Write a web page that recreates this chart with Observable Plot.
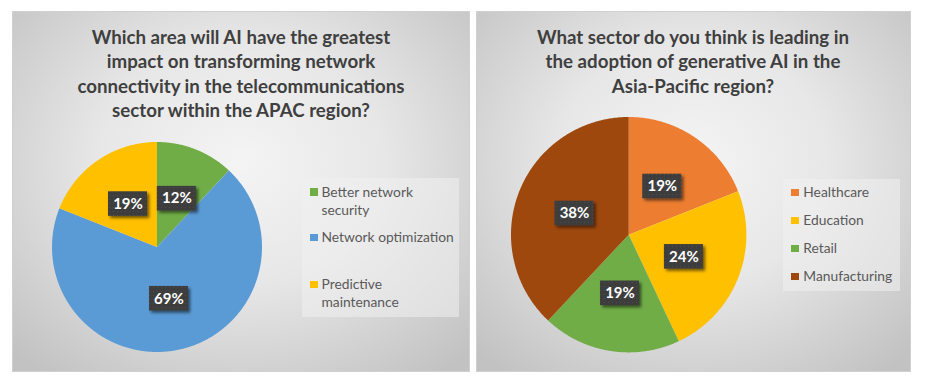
<!DOCTYPE html>
<html>
<head>
<meta charset="utf-8">
<script src="https://cdn.jsdelivr.net/npm/d3@7"></script>
<script src="https://cdn.jsdelivr.net/npm/@observablehq/plot@0.6"></script>
<style>
  html, body { margin: 0; padding: 0; background: #fff; }
  body { width: 926px; height: 385px; position: relative; overflow: hidden; font-family: Lato, "Open Sans", sans-serif; }
  .panel { position: absolute; top: 11px; height: 361px; box-sizing: border-box; border: 1px solid #d0d0d0;
    background: radial-gradient(ellipse 70% 75% at 50% 42%, #f4f4f4 0%, #e7e7e7 45%, #c2c2c2 100%); }
  .title { position: absolute; text-align: center; font-weight: bold; color: #3f3f3f; font-size: 18.7px; line-height: 24.4px; white-space: nowrap; }
  .legend { position: absolute; background: rgba(240,240,240,0.55); }
  .item { position: absolute; font-size: 13.8px; line-height: 18.3px; color: #595959; white-space: nowrap; }
  .sw { position: absolute; width: 7.5px; height: 7.5px; }
  .pie { position: absolute; }
  .pie svg { overflow: visible; }
</style>
</head>
<body>
<script>
// ---- data ----
const leftTitle = ["Which area will AI have the greatest", "impact on transforming network", "connectivity in the telecommunications", "sector within the APAC region?"];
const leftCategories = ["Better network security", "Network optimization", "Predictive maintenance"];
const leftLegendLines = [["Better network", "security"], ["Network optimization"], ["Predictive", "maintenance"]];
const leftValues = [12, 69, 19];

const rightTitle = ["What sector do you think is leading in", "the adoption of generative AI in the", "Asia-Pacific region?"];
const rightCategories = ["Healthcare", "Education", "Retail", "Manufacturing"];
const rightValues = [19, 24, 19, 38];

// ---- styles ----
const leftColors = ["#70AD47", "#5B9BD5", "#FFC000"];
const rightColors = ["#ED7D31", "#FFC000", "#70AD47", "#9E480E"];

function panel(left, width) {
  const p = document.createElement("div");
  p.className = "panel";
  p.style.left = left + "px";
  p.style.width = width + "px";
  document.body.appendChild(p);
}
panel(12, 458);
panel(476, 435);

function title(lines, cx, top) {
  const t = document.createElement("div");
  t.className = "title";
  t.style.left = (cx - 250) + "px";
  t.style.width = "500px";
  t.style.top = top + "px";
  t.innerHTML = lines.join("<br>");
  document.body.appendChild(t);
}
title(leftTitle, 241, 24.8);
title(rightTitle, 693, 24.8);

function pie(categories, values, colors, cx, cy, R, id) {
  const arcs = d3.pie().sort(null).value(d => d)(values);
  const pts = [];
  arcs.forEach((a, i) => {
    const n = Math.max(2, Math.ceil((a.endAngle - a.startAngle) / (Math.PI / 360)));
    for (let k = 0; k <= n; k++) {
      const ang = a.startAngle + (a.endAngle - a.startAngle) * k / n;
      pts.push({cat: categories[i], x1: Math.sin(ang), y1: Math.cos(ang), x2: 0, y2: 0});
    }
  });
  const bw = 19.5 / R, bh = 12.3 / R;
  const labels = arcs.map((a, i) => {
    const m = (a.startAngle + a.endAngle) / 2;
    const x = 0.5 * Math.sin(m), y = 0.5 * Math.cos(m);
    return {cat: categories[i], text: values[i] + "%", x, y, x1: x - bw, x2: x + bw, y1: y - bh, y2: y + bh};
  });
  const svg = Plot.plot({
    width: 2 * R, height: 2 * R,
    margin: 0,
    x: {domain: [-1, 1], axis: null},
    y: {domain: [-1, 1], axis: null},
    color: {domain: categories, range: colors},
    style: {background: "transparent", overflow: "visible"},
    marks: [
      Plot.area(pts, {x1: "x1", y1: "y1", x2: "x2", y2: "y2", fill: "cat", z: "cat"}),
      Plot.rect(labels, {x1: "x1", x2: "x2", y1: "y1", y2: "y2", fill: "#404040"}),
      Plot.text(labels, {x: "x", y: "y", text: "text", fill: "white", fontSize: 15, fontWeight: "bold", fontFamily: "Lato, sans-serif"})
    ]
  });
  const defs = d3.select(svg).insert("defs", ":first-child");
  const f = defs.append("filter").attr("id", "sh" + id).attr("x", "-30%").attr("y", "-30%").attr("width", "170%").attr("height", "180%");
  f.append("feDropShadow").attr("dx", 2.2).attr("dy", 2.2).attr("stdDeviation", 1.6).attr("flood-color", "#000").attr("flood-opacity", 0.55);
  const pat = defs.append("pattern").attr("id", "dots" + id).attr("width", 4).attr("height", 4).attr("patternUnits", "userSpaceOnUse");
  pat.append("rect").attr("width", 4).attr("height", 4).attr("fill", "#3d3d3d");
  pat.append("rect").attr("x", 1).attr("y", 1).attr("width", 1).attr("height", 1).attr("fill", "#4e4e4e");
  d3.select(svg).selectAll("g[aria-label='rect'] rect").attr("fill", `url(#dots${id})`).attr("filter", `url(#sh${id})`);
  const holder = document.createElement("div");
  holder.className = "pie";
  holder.style.left = (cx - R) + "px";
  holder.style.top = (cy - R) + "px";
  holder.appendChild(svg);
  document.body.appendChild(holder);
}
pie(leftCategories, leftValues, leftColors, 156.7, 246.7, 105, "L");
pie(rightCategories, rightValues, rightColors, 629, 235, 117.7, "R");

function legend(box, items, colors, tops, textX, swX) {
  const b = document.createElement("div");
  b.className = "legend";
  Object.assign(b.style, {left: box[0] + "px", top: box[1] + "px", width: box[2] + "px", height: box[3] + "px"});
  document.body.appendChild(b);
  items.forEach((lines, i) => {
    const it = document.createElement("div");
    it.className = "item";
    it.style.left = textX + "px";
    it.style.top = tops[i] + "px";
    it.innerHTML = lines.join("<br>");
    document.body.appendChild(it);
    const s = document.createElement("div");
    s.className = "sw";
    s.style.background = colors[i];
    s.style.left = swX + "px";
    s.style.top = (tops[i] + 5.6) + "px";
    document.body.appendChild(s);
  });
}
legend([302, 178, 157, 139], leftLegendLines, leftColors, [182.6, 228.2, 275.2], 321.5, 310);
legend([782.7, 179, 117.3, 112], rightCategories.map(c => [c]), rightColors, [183.2, 211.2, 239.2, 267.2], 803.3, 791);
</script>
</body>
</html>
